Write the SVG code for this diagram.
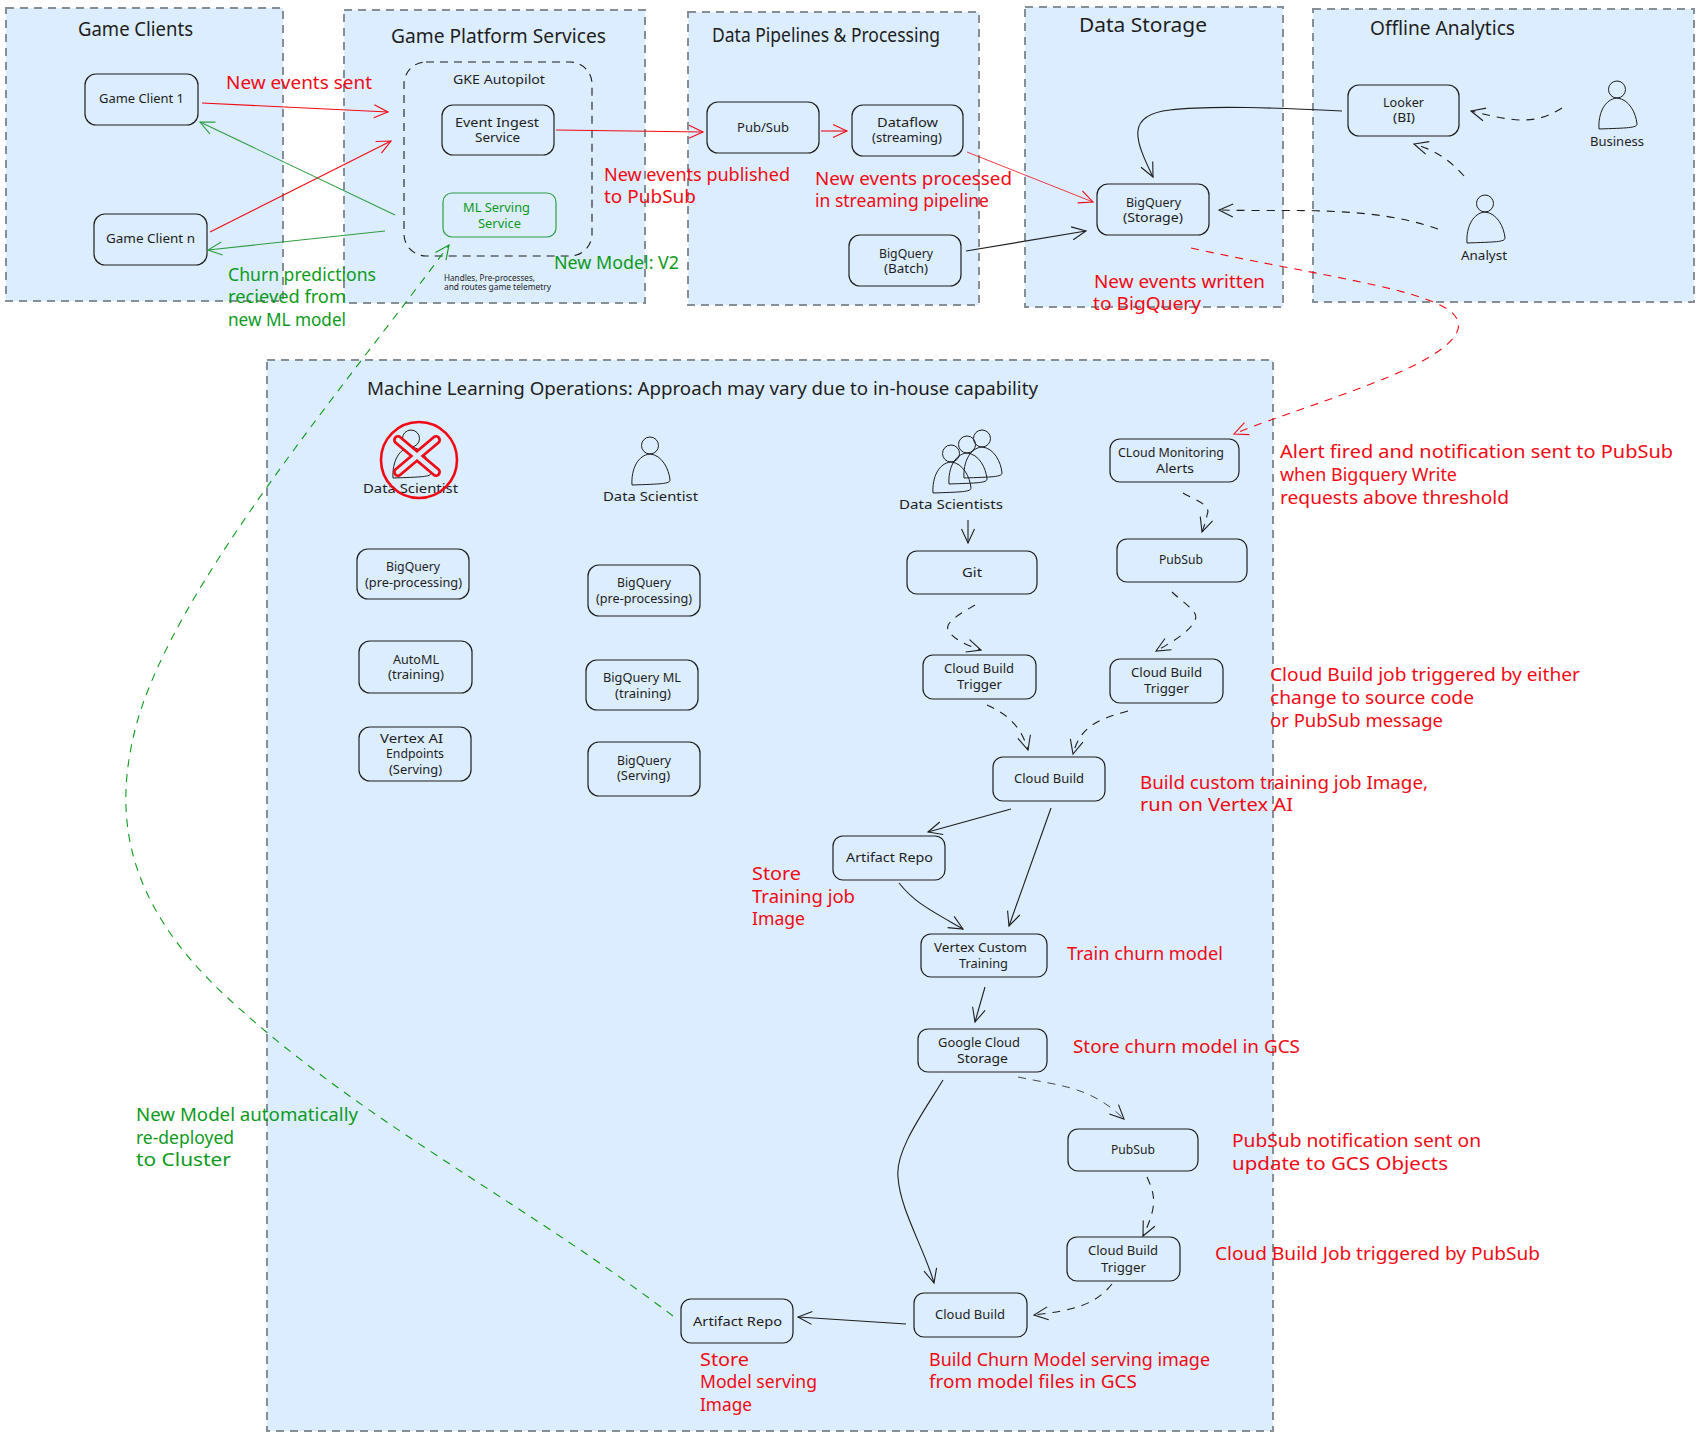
<svg xmlns="http://www.w3.org/2000/svg" width="1701" height="1438" viewBox="0 0 1701 1438">
<style>
text{font-family:"Noto Sans","Liberation Sans",sans-serif;fill:#1e1e1e}
.panel{fill:#dbedff;stroke:#868e96;stroke-width:2;stroke-dasharray:8 6}
.box{fill:none;stroke:#1e1e1e;stroke-width:1.2}
.green{stroke:#2f9e44}
.gke{fill:none;stroke:#1e1e1e;stroke-width:1.1;stroke-dasharray:8 6}
.t{font-size:20px}
.n{font-size:13px}
.s{font-size:8px}
.r{font-size:18px;fill:#f00a14}
.g{font-size:18px;fill:#0e9a1c}
.gn{font-size:13px;fill:#0e9a1c}
.c{fill:none;stroke-width:1.1}
.thin{stroke-width:.8}
.k{stroke:#1e1e1e;marker-end:url(#ak)}
.rd{stroke:#f00a14;marker-end:url(#ar)}
.gr{stroke:#2f9e44;marker-end:url(#ag)}
.d{stroke-dasharray:8 7}
.gd{stroke:#0e9a1c;marker-end:url(#agd);stroke-dasharray:8 7}
</style>
<defs>
<marker id="ak" markerUnits="userSpaceOnUse" markerWidth="24" markerHeight="24" refX="20" refY="10" orient="auto"><path d="M6 3.5 L20 10 L6 16.5" fill="none" stroke="#1e1e1e" stroke-width="1.1"/></marker>
<marker id="ar" markerUnits="userSpaceOnUse" markerWidth="24" markerHeight="24" refX="20" refY="10" orient="auto"><path d="M6 3.5 L20 10 L6 16.5" fill="none" stroke="#f00a14" stroke-width="1.1"/></marker>
<marker id="ag" markerUnits="userSpaceOnUse" markerWidth="24" markerHeight="24" refX="20" refY="10" orient="auto"><path d="M6 3.5 L20 10 L6 16.5" fill="none" stroke="#2f9e44" stroke-width="1.1"/></marker>
<marker id="agd" markerUnits="userSpaceOnUse" markerWidth="24" markerHeight="24" refX="20" refY="10" orient="auto"><path d="M6 3.5 L20 10 L6 16.5" fill="none" stroke="#0e9a1c" stroke-width="1.1"/></marker>
<g id="person"><circle cx="0" cy="-8.5" r="8.5" fill="none" stroke="#1e1e1e"/><path d="M-18 31 C-19 15 -12 1 0 0 C12 1 19 15 20 26 C20 30 10 30 -18 31Z" fill="none" stroke="#1e1e1e"/></g>
</defs>
<g id="panel-clients"><rect class="panel" x="6" y="8" width="277" height="293"/><text class="t" x="78" y="36" textLength="115" lengthAdjust="spacingAndGlyphs">Game Clients</text></g>
<g id="panel-platform"><rect class="panel" x="344" y="10" width="301" height="293"/><text class="t" x="391" y="43" textLength="215" lengthAdjust="spacingAndGlyphs">Game Platform Services</text></g>
<g id="panel-pipelines"><rect class="panel" x="688" y="12" width="291" height="293"/><text class="t" x="712" y="42" textLength="228" lengthAdjust="spacingAndGlyphs">Data Pipelines &amp; Processing</text></g>
<g id="panel-storage"><rect class="panel" x="1025" y="7" width="258" height="300"/><text class="t" x="1079" y="32" textLength="128" lengthAdjust="spacingAndGlyphs">Data Storage</text></g>
<g id="panel-offline"><rect class="panel" x="1313" y="9" width="381" height="293"/><text class="t" x="1370" y="35" textLength="145" lengthAdjust="spacingAndGlyphs">Offline Analytics</text></g>
<g id="panel-mlops"><rect class="panel" x="267" y="360" width="1006" height="1071"/><text class="t" x="367" y="395" style="font-size:18px" textLength="671" lengthAdjust="spacingAndGlyphs">Machine Learning Operations: Approach may vary due to in-house capability</text></g>

<g id="gke-autopilot"><rect class="gke" x="404" y="62" width="188" height="194" rx="22"/><text class="n" x="453" y="84" textLength="92" lengthAdjust="spacingAndGlyphs">GKE Autopilot</text><text class="s" x="444" y="281" textLength="91" lengthAdjust="spacingAndGlyphs">Handles, Pre-processes,</text><text class="s" x="444" y="290" textLength="107" lengthAdjust="spacingAndGlyphs">and routes game telemetry</text></g>
<g id="game-client-1"><rect class="box" x="85" y="74" width="113" height="51" rx="11"/><text class="n" x="99" y="103" textLength="85" lengthAdjust="spacingAndGlyphs">Game Client 1</text></g>
<g id="game-client-n"><rect class="box" x="94" y="214" width="113" height="51" rx="11"/><text class="n" x="106" y="243" textLength="89" lengthAdjust="spacingAndGlyphs">Game Client n</text></g>
<g id="event-ingest"><rect class="box" x="442" y="105" width="112" height="50" rx="11"/><text class="n" x="455" y="127" textLength="84" lengthAdjust="spacingAndGlyphs">Event Ingest</text><text class="n" x="475" y="142" textLength="45" lengthAdjust="spacingAndGlyphs">Service</text></g>
<g id="ml-serving"><rect class="box green" x="443" y="193" width="113" height="44" rx="9"/><text class="gn" x="463" y="212" textLength="67" lengthAdjust="spacingAndGlyphs">ML Serving</text><text class="gn" x="478" y="228" textLength="43" lengthAdjust="spacingAndGlyphs">Service</text></g>
<g id="pubsub-stream"><rect class="box" x="707" y="102" width="112" height="51" rx="11"/><text class="n" x="737" y="132" textLength="52" lengthAdjust="spacingAndGlyphs">Pub/Sub</text></g>
<g id="dataflow"><rect class="box" x="852" y="105" width="111" height="51" rx="11"/><text class="n" x="877" y="127" textLength="61" lengthAdjust="spacingAndGlyphs">Dataflow</text><text class="n" x="872" y="142" textLength="70" lengthAdjust="spacingAndGlyphs">(streaming)</text></g>
<g id="bq-batch"><rect class="box" x="849" y="235" width="112" height="51" rx="11"/><text class="n" x="879" y="258" textLength="54" lengthAdjust="spacingAndGlyphs">BigQuery</text><text class="n" x="884" y="273" textLength="44" lengthAdjust="spacingAndGlyphs">(Batch)</text></g>
<g id="bq-storage"><rect class="box" x="1097" y="184" width="112" height="51" rx="11"/><text class="n" x="1126" y="207" textLength="55" lengthAdjust="spacingAndGlyphs">BigQuery</text><text class="n" x="1123" y="222" textLength="60" lengthAdjust="spacingAndGlyphs">(Storage)</text></g>
<g id="looker"><rect class="box" x="1348" y="85" width="111" height="51" rx="11"/><text class="n" x="1383" y="107" textLength="41" lengthAdjust="spacingAndGlyphs">Looker</text><text class="n" x="1393" y="122" textLength="22" lengthAdjust="spacingAndGlyphs">(BI)</text></g>
<g id="business"><use href="#person" x="1617" y="98"/><text class="n" x="1590" y="146" textLength="54" lengthAdjust="spacingAndGlyphs">Business</text></g>
<g id="analyst"><use href="#person" x="1485" y="212"/><text class="n" x="1461" y="260" textLength="46" lengthAdjust="spacingAndGlyphs">Analyst</text></g>

<g id="ds-crossed"><use href="#person" x="411" y="447"/><text class="n" x="363" y="493" textLength="95" lengthAdjust="spacingAndGlyphs">Data Scientist</text><circle cx="419" cy="460" r="38" fill="none" stroke="#f00a14" stroke-width="2.6"/><path d="M398 440 L436 472 M436 440 L398 472" fill="none" stroke="#f00a14" stroke-width="10" stroke-linecap="round"/><path d="M398 440 L436 472 M436 440 L398 472" fill="none" stroke="#dbedff" stroke-width="4.5" stroke-linecap="round"/></g>
<g id="ds-2"><use href="#person" x="650" y="454"/><text class="n" x="603" y="501" textLength="95" lengthAdjust="spacingAndGlyphs">Data Scientist</text></g>
<g id="ds-team"><use href="#person" x="982" y="447"/><use href="#person" x="967" y="453"/><use href="#person" x="951" y="462"/><text class="n" x="899" y="509" textLength="104" lengthAdjust="spacingAndGlyphs">Data Scientists</text></g>
<g id="bq-pre-1"><rect class="box" x="357" y="549" width="112" height="50" rx="11"/><text class="n" x="386" y="571" textLength="54" lengthAdjust="spacingAndGlyphs">BigQuery</text><text class="n" x="365" y="587" textLength="97" lengthAdjust="spacingAndGlyphs">(pre-processing)</text></g>
<g id="automl"><rect class="box" x="359" y="641" width="113" height="52" rx="11"/><text class="n" x="393" y="664" textLength="46" lengthAdjust="spacingAndGlyphs">AutoML</text><text class="n" x="388" y="679" textLength="56" lengthAdjust="spacingAndGlyphs">(training)</text></g>
<g id="vertex-endpoints"><rect class="box" x="359" y="727" width="112" height="54" rx="11"/><text class="n" x="380" y="743" textLength="63" lengthAdjust="spacingAndGlyphs">Vertex AI</text><text class="n" x="386" y="758" textLength="58" lengthAdjust="spacingAndGlyphs">Endpoints</text><text class="n" x="389" y="774" textLength="53" lengthAdjust="spacingAndGlyphs">(Serving)</text></g>
<g id="bq-pre-2"><rect class="box" x="588" y="565" width="112" height="51" rx="11"/><text class="n" x="617" y="587" textLength="54" lengthAdjust="spacingAndGlyphs">BigQuery</text><text class="n" x="596" y="603" textLength="96" lengthAdjust="spacingAndGlyphs">(pre-processing)</text></g>
<g id="bq-ml"><rect class="box" x="586" y="660" width="112" height="50" rx="11"/><text class="n" x="603" y="682" textLength="78" lengthAdjust="spacingAndGlyphs">BigQuery ML</text><text class="n" x="615" y="698" textLength="56" lengthAdjust="spacingAndGlyphs">(training)</text></g>
<g id="bq-serving"><rect class="box" x="588" y="742" width="112" height="54" rx="11"/><text class="n" x="617" y="765" textLength="54" lengthAdjust="spacingAndGlyphs">BigQuery</text><text class="n" x="617" y="780" textLength="53" lengthAdjust="spacingAndGlyphs">(Serving)</text></g>
<g id="git"><rect class="box" x="907" y="551" width="130" height="43" rx="10"/><text class="n" x="962" y="577" textLength="20" lengthAdjust="spacingAndGlyphs">Git</text></g>
<g id="monitoring"><rect class="box" x="1110" y="439" width="129" height="43" rx="10"/><text class="n" x="1118" y="457" textLength="106" lengthAdjust="spacingAndGlyphs">CLoud Monitoring</text><text class="n" x="1156" y="473" textLength="38" lengthAdjust="spacingAndGlyphs">Alerts</text></g>
<g id="pubsub-alert"><rect class="box" x="1117" y="539" width="130" height="43" rx="10"/><text class="n" x="1159" y="564" textLength="44" lengthAdjust="spacingAndGlyphs">PubSub</text></g>
<g id="trigger-git"><rect class="box" x="923" y="655" width="113" height="44" rx="10"/><text class="n" x="944" y="673" textLength="70" lengthAdjust="spacingAndGlyphs">Cloud Build</text><text class="n" x="957" y="689" textLength="45" lengthAdjust="spacingAndGlyphs">Trigger</text></g>
<g id="trigger-alert"><rect class="box" x="1110" y="659" width="113" height="44" rx="10"/><text class="n" x="1131" y="677" textLength="71" lengthAdjust="spacingAndGlyphs">Cloud Build</text><text class="n" x="1144" y="693" textLength="45" lengthAdjust="spacingAndGlyphs">Trigger</text></g>
<g id="cloud-build-train"><rect class="box" x="993" y="757" width="112" height="44" rx="10"/><text class="n" x="1014" y="783" textLength="70" lengthAdjust="spacingAndGlyphs">Cloud Build</text></g>
<g id="artifact-train"><rect class="box" x="833" y="836" width="112" height="44" rx="10"/><text class="n" x="846" y="862" textLength="87" lengthAdjust="spacingAndGlyphs">Artifact Repo</text></g>
<g id="vertex-training"><rect class="box" x="921" y="934" width="126" height="43" rx="10"/><text class="n" x="934" y="952" textLength="93" lengthAdjust="spacingAndGlyphs">Vertex Custom</text><text class="n" x="959" y="968" textLength="49" lengthAdjust="spacingAndGlyphs">Training</text></g>
<g id="gcs"><rect class="box" x="918" y="1029" width="129" height="43" rx="10"/><text class="n" x="938" y="1047" textLength="82" lengthAdjust="spacingAndGlyphs">Google Cloud</text><text class="n" x="957" y="1063" textLength="51" lengthAdjust="spacingAndGlyphs">Storage</text></g>
<g id="pubsub-gcs"><rect class="box" x="1068" y="1129" width="130" height="42" rx="10"/><text class="n" x="1111" y="1154" textLength="44" lengthAdjust="spacingAndGlyphs">PubSub</text></g>
<g id="trigger-gcs"><rect class="box" x="1067" y="1237" width="113" height="44" rx="10"/><text class="n" x="1088" y="1255" textLength="70" lengthAdjust="spacingAndGlyphs">Cloud Build</text><text class="n" x="1101" y="1272" textLength="45" lengthAdjust="spacingAndGlyphs">Trigger</text></g>
<g id="cloud-build-serve"><rect class="box" x="914" y="1293" width="113" height="44" rx="10"/><text class="n" x="935" y="1319" textLength="70" lengthAdjust="spacingAndGlyphs">Cloud Build</text></g>
<g id="artifact-serve"><rect class="box" x="681" y="1299" width="112" height="44" rx="10"/><text class="n" x="693" y="1326" textLength="89" lengthAdjust="spacingAndGlyphs">Artifact Repo</text></g>

<g id="connectors">
<path class="c rd" d="M202 103 L388 112"/>
<path class="c rd" d="M210 232 L391 141"/>
<path class="c gr" d="M395 215 L200 122"/>
<path class="c gr" d="M385 231 L208 250"/>
<path class="c rd" d="M556 130 L703 132"/>
<path class="c rd" d="M821 131 L847 131"/>
<path class="c rd thin" d="M967 152 L1093 202"/>
<path class="c k" d="M966 251 L1086 231"/>
<path class="c k" d="M1342 111 C1280 108 1210 105 1170 110 C1125 115 1135 140 1153 177"/>
<path class="c k d" d="M1562 108 C1535 125 1515 122 1471 111"/>
<path class="c k d" d="M1464 176 C1450 160 1435 150 1414 144"/>
<path class="c k d" d="M1438 229 C1370 205 1290 212 1219 210"/>
<path class="c rd d" d="M1191 248 C1300 272 1400 285 1440 305 C1475 322 1460 345 1400 372 C1340 398 1280 415 1234 434"/>
<path class="c gd" d="M673 1316 C520 1200 360 1120 230 1000 C120 900 115 810 135 730 C170 590 350 380 449 245"/>
<path class="c k" d="M968 520 L968 543"/>
<path class="c k d" d="M1183 493 C1195 500 1212 505 1207 515 C1206 522 1204 526 1202 532"/>
<path class="c k d" d="M1172 592 C1182 602 1200 612 1195 620 C1190 632 1172 642 1156 651"/>
<path class="c k d" d="M975 605 C960 614 945 622 948 630 C952 638 965 645 981 650"/>
<path class="c k d" d="M987 705 C1002 712 1020 722 1028 750"/>
<path class="c k d" d="M1128 711 C1095 720 1080 728 1073 754"/>
<path class="c k" d="M1011 809 L928 832"/>
<path class="c k" d="M1051 808 L1009 926"/>
<path class="c k" d="M899 883 C915 903 930 910 963 929"/>
<path class="c k" d="M985 987 L975 1022"/>
<path class="c k d thin" d="M1018 1077 C1060 1086 1090 1086 1124 1119"/>
<path class="c k" d="M943 1080 C925 1110 895 1150 898 1177 C900 1210 925 1250 934 1283"/>
<path class="c k d" d="M1147 1177 C1155 1195 1158 1205 1143 1236"/>
<path class="c k d" d="M1112 1284 C1095 1305 1075 1310 1034 1315"/>
<path class="c k" d="M906 1324 L798 1317"/>
</g>

<g id="labels">
<text class="r" x="226" y="89" textLength="146" lengthAdjust="spacingAndGlyphs">New events sent</text>
<text class="r" x="604" y="181" textLength="186" lengthAdjust="spacingAndGlyphs">New events published</text>
<text class="r" x="604" y="203" textLength="92" lengthAdjust="spacingAndGlyphs">to PubSub</text>
<text class="r" x="815" y="185" textLength="197" lengthAdjust="spacingAndGlyphs">New events processed</text>
<text class="r" x="815" y="207" textLength="174" lengthAdjust="spacingAndGlyphs">in streaming pipeline</text>
<text class="r" x="1094" y="288" textLength="171" lengthAdjust="spacingAndGlyphs">New events written</text>
<text class="r" x="1093" y="310" textLength="108" lengthAdjust="spacingAndGlyphs">to BigQuery</text>
<text class="g" x="228" y="281" textLength="148" lengthAdjust="spacingAndGlyphs">Churn predictions</text>
<text class="g" x="228" y="303" textLength="118" lengthAdjust="spacingAndGlyphs">recieved from</text>
<text class="g" x="228" y="326" textLength="118" lengthAdjust="spacingAndGlyphs">new ML model</text>
<text class="g" x="554" y="269" textLength="125" lengthAdjust="spacingAndGlyphs">New Model: V2</text>
<text class="g" x="136" y="1121" textLength="222" lengthAdjust="spacingAndGlyphs">New Model automatically</text>
<text class="g" x="136" y="1144" textLength="98" lengthAdjust="spacingAndGlyphs">re-deployed</text>
<text class="g" x="136" y="1166" textLength="95" lengthAdjust="spacingAndGlyphs">to Cluster</text>
<text class="r" x="1280" y="458" textLength="393" lengthAdjust="spacingAndGlyphs">Alert fired and notification sent to PubSub</text>
<text class="r" x="1280" y="481" textLength="177" lengthAdjust="spacingAndGlyphs">when Bigquery Write</text>
<text class="r" x="1280" y="504" textLength="229" lengthAdjust="spacingAndGlyphs">requests above threshold</text>
<text class="r" x="1270" y="681" textLength="310" lengthAdjust="spacingAndGlyphs">Cloud Build job triggered by either</text>
<text class="r" x="1270" y="704" textLength="204" lengthAdjust="spacingAndGlyphs">change to source code</text>
<text class="r" x="1270" y="727" textLength="173" lengthAdjust="spacingAndGlyphs">or PubSub message</text>
<text class="r" x="1140" y="789" textLength="288" lengthAdjust="spacingAndGlyphs">Build custom training job Image,</text>
<text class="r" x="1140" y="811" textLength="153" lengthAdjust="spacingAndGlyphs">run on Vertex AI</text>
<text class="r" x="752" y="880" textLength="49" lengthAdjust="spacingAndGlyphs">Store</text>
<text class="r" x="752" y="903" textLength="103" lengthAdjust="spacingAndGlyphs">Training job</text>
<text class="r" x="752" y="925" textLength="53" lengthAdjust="spacingAndGlyphs">Image</text>
<text class="r" x="1067" y="960" textLength="156" lengthAdjust="spacingAndGlyphs">Train churn model</text>
<text class="r" x="1073" y="1053" textLength="227" lengthAdjust="spacingAndGlyphs">Store churn model in GCS</text>
<text class="r" x="1232" y="1147" textLength="249" lengthAdjust="spacingAndGlyphs">PubSub notification sent on</text>
<text class="r" x="1232" y="1170" textLength="216" lengthAdjust="spacingAndGlyphs">update to GCS Objects</text>
<text class="r" x="1215" y="1260" textLength="325" lengthAdjust="spacingAndGlyphs">Cloud Build Job triggered by PubSub</text>
<text class="r" x="700" y="1366" textLength="49" lengthAdjust="spacingAndGlyphs">Store</text>
<text class="r" x="700" y="1388" textLength="117" lengthAdjust="spacingAndGlyphs">Model serving</text>
<text class="r" x="700" y="1411" textLength="52" lengthAdjust="spacingAndGlyphs">Image</text>
<text class="r" x="929" y="1366" textLength="281" lengthAdjust="spacingAndGlyphs">Build Churn Model serving image</text>
<text class="r" x="929" y="1388" textLength="208" lengthAdjust="spacingAndGlyphs">from model files in GCS</text>
</g>
</svg>
